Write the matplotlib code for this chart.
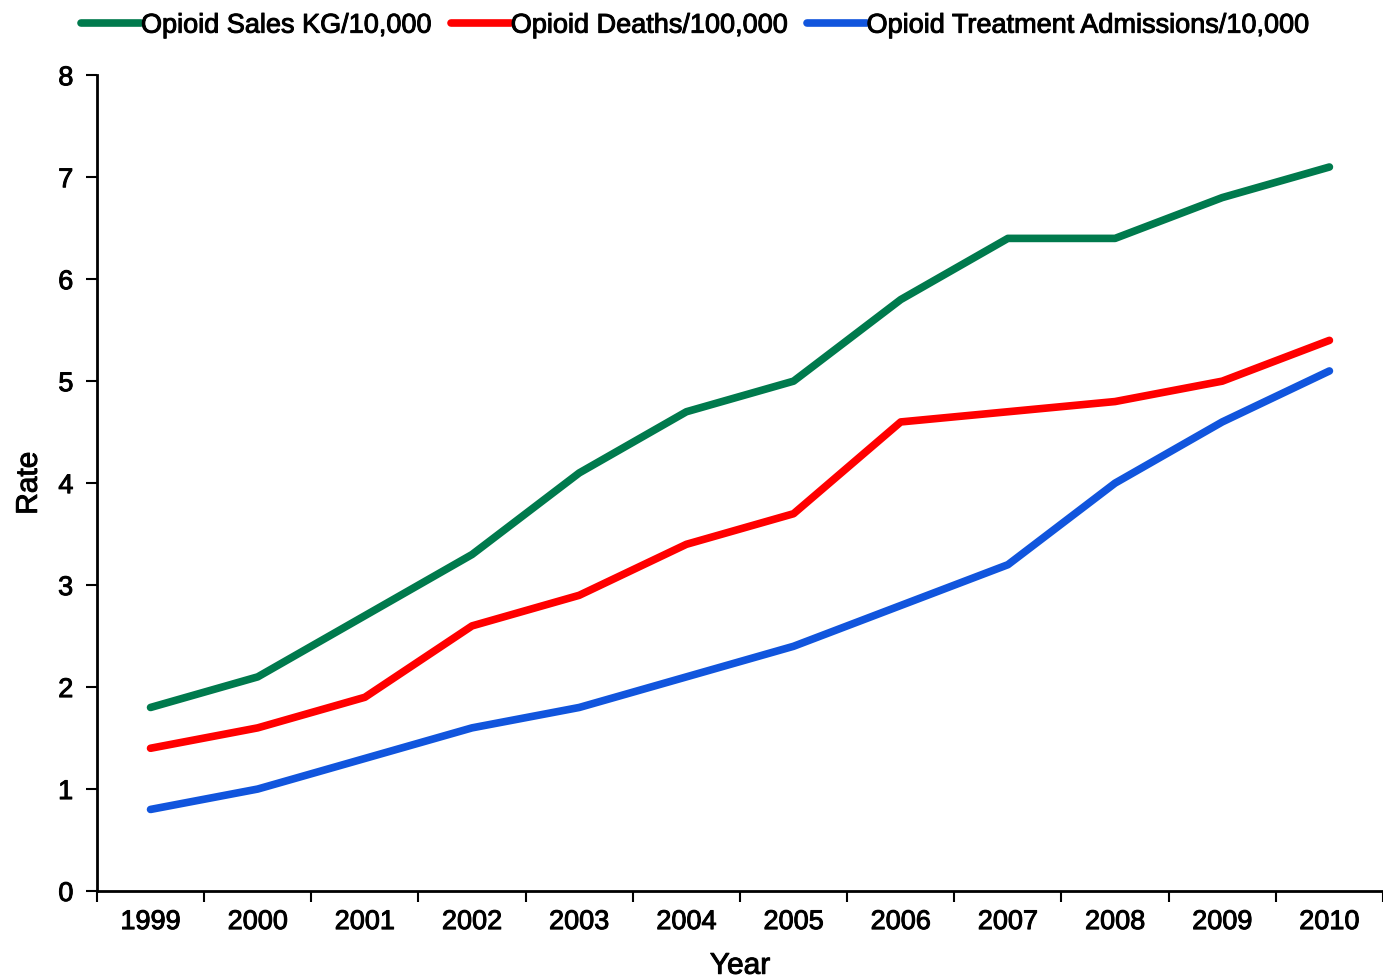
import matplotlib
matplotlib.use("Agg")
import matplotlib.pyplot as plt
import matplotlib.patheffects as pe

years = ["1999", "2000", "2001", "2002", "2003", "2004",
         "2005", "2006", "2007", "2008", "2009", "2010"]
sales = [1.8, 2.1, 2.7, 3.3, 4.1, 4.7, 5.0, 5.8, 6.4, 6.4, 6.8, 7.1]
deaths = [1.4, 1.6, 1.9, 2.6, 2.9, 3.4, 3.7, 4.6, 4.7, 4.8, 5.0, 5.4]
admissions = [0.8, 1.0, 1.3, 1.6, 1.8, 2.1, 2.4, 2.8, 3.2, 4.0, 4.6, 5.1]

plt.rcParams["font.family"] = ["Liberation Sans", "DejaVu Sans"]

# slightly heavier text, like the original's rendering
heavy = [pe.withStroke(linewidth=0.7, foreground="black")]

fig = plt.figure(figsize=(13.83, 9.77), dpi=100)
ax = fig.add_axes([0.0701, 0.088, 0.9299, 0.835])

x = range(len(years))
ax.plot(x, sales, color="#007A4D", lw=5.5, solid_capstyle="round",
        label="Opioid Sales KG/10,000")
ax.plot(x, deaths, color="#FF0000", lw=5.5, solid_capstyle="round",
        label="Opioid Deaths/100,000")
ax.plot(x, admissions, color="#1155DD", lw=5.5, solid_capstyle="round",
        label="Opioid Treatment Admissions/10,000")

ax.set_xlim(-0.5, len(years) - 0.5)
ax.set_ylim(0, 8)
ax.set_yticks(range(0, 9))
# tick marks sit between the years, labels centred on them
ax.set_xticks([i + 0.5 for i in range(-1, len(years))], minor=False)
ax.set_xticklabels([])
ax.set_xticks(list(x), minor=True)
ax.set_xticklabels(years, minor=True)
ax.tick_params(axis="x", which="major", length=8, width=1.5, direction="out")
ax.tick_params(axis="x", which="minor", length=0, pad=13, labelsize=19.5)
ax.tick_params(axis="y", length=8, width=1.5, direction="out", pad=9, labelsize=19.5)

for s in ["top", "right"]:
    ax.spines[s].set_visible(False)
for s in ["left", "bottom"]:
    ax.spines[s].set_linewidth(2)

ax.set_ylabel("Rate", fontsize=21.5, labelpad=11, path_effects=heavy)
ax.set_xlabel("Year", fontsize=21.5, labelpad=12, path_effects=heavy)

for t in ax.get_xticklabels(minor=True) + ax.get_yticklabels():
    t.set_path_effects(heavy)

leg = fig.legend(loc="upper center", bbox_to_anchor=(0.503, 1.012), ncol=3,
                 frameon=False, fontsize=19.5, handlelength=2.2, handletextpad=0.0,
                 columnspacing=0.7)
for t in leg.get_texts():
    t.set_path_effects(heavy)

fig.savefig("out.png", dpi=100)
